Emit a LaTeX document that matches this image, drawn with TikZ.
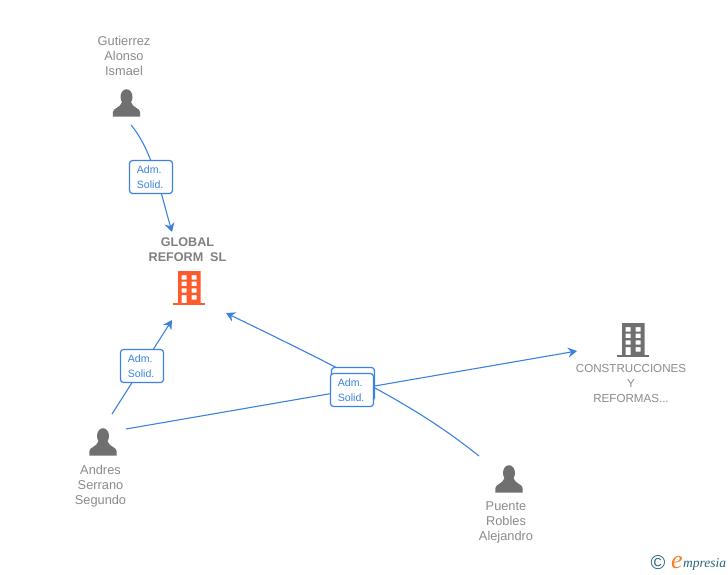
\documentclass[tikz,border=0pt]{standalone}
\usepackage{fontspec}
\setmainfont{Liberation Sans}
\newfontfamily\logofont{Liberation Serif}
\usetikzlibrary{arrows.meta, positioning, calc}
\definecolor{linkblue}{HTML}{3B82E0}
\definecolor{icongrey}{HTML}{707070}
\definecolor{textgrey}{HTML}{8A8A8A}
\definecolor{maingrey}{HTML}{808080}
\definecolor{firmorange}{HTML}{FF5A2B}
\definecolor{logoteal}{HTML}{2A6478}
\definecolor{logoorange}{HTML}{F58220}

\begin{document}
\begin{tikzpicture}[
		x=1pt, y=-1pt,
		every node/.style={align=center, inner sep=0pt},
		arrow/.style={-{Stealth[length=9pt, width=10pt, inset=3pt]}, linkblue, line width=1.1pt},
		label/.style={text=textgrey, font=\fontsize{12.8}{15}\selectfont},
		firm label/.style={text=textgrey, font=\fontsize{11.6}{15}\selectfont},
		main label/.style={text=maingrey, font=\fontsize{12.6}{15.5}\selectfont\bfseries},
		role/.style={draw=linkblue, fill=white, rounded corners=3pt, line width=1.2pt, minimum width=43pt, minimum height=33pt, text=linkblue, align=left, font=\fontsize{10.6}{15}\selectfont},
		personicon/.pic={
			\fill[icongrey] (0,-6) ellipse (6 and 7.8);
			\fill[icongrey] (-13.6,13.6) -- (-13.6,9) .. controls (-13.6,5) and (-6,5) .. (-4.5,-1)
				-- (4.5,-1) .. controls (6,5) and (13.6,5) .. (13.6,9) -- (13.6,13.6) -- cycle;
		},
		buildingicon/.pic={
			\fill[pic actions, even odd rule] (-11,-17) rectangle (11.5,15)
				(-7.3,-13) rectangle (-2.3,-8.5) (2.7,-13) rectangle (7.7,-8.5)
				(-7.3,-6.3) rectangle (-2.3,-2) (2.7,-6.3) rectangle (7.7,-2)
				(-7.3,0.3) rectangle (-2.3,4.7) (2.7,0.3) rectangle (7.7,4.7)
				(-7.3,7) rectangle (-2.3,15) (2.7,7) rectangle (7.7,11.5);
			\fill[pic actions] (-16,15) rectangle (16,17);
		}
		]
		\useasboundingbox (0,0) rectangle (728,575);
		
		% Nodes
		\node[label] (gutierrez) at (124,56) {Gutierrez \\ Alonso \\ Ismael};
		\node[main label] (global) at (187.5,249.5) {GLOBAL \\ REFORM\ \ SL};
		\node[label] (andres) at (100.5,486) {Andres \\ Serrano \\ Segundo};
		\node[label] (puente) at (506,522) {Puente \\ Robles \\ Alejandro};
		\node[firm label] (construcciones) at (631,383.5) {CONSTRUCCIONES \\ Y \\ REFORMAS...};
		
		% Icons
		\pic at (126.5,103) {personicon};
		\pic at (103,442) {personicon};
		\pic at (509,479) {personicon};
		\pic[fill=firmorange] at (189,288) {buildingicon};
		\pic[fill=icongrey] at (633,340) {buildingicon};
		
		% Connector ends
		\coordinate (gutierrezend) at (131,125);
		\coordinate (globaltop) at (172,232);
		\coordinate (andresup) at (112,414);
		\coordinate (globalleft) at (172,320);
		\coordinate (andresright) at (126,429);
		\coordinate (firmend) at (577,351);
		\coordinate (puenteend) at (479,456);
		\coordinate (globalright) at (226,313);
		
		% Links
		\draw[arrow] (gutierrezend) .. controls (152,150) and (160,190) .. (globaltop);
		\draw[arrow] (andresup) -- (globalleft);
		\draw[arrow] (andresright) -- (firmend);
		\draw[arrow] (puenteend) .. controls (425,413) and (375,385) .. (globalright);
		
		% Roles
		\node[role] (roleone) at (151,177) {Adm. \\ Solid.\,};
		\node[role] (roletwo) at (142,366) {Adm. \\ Solid.\,};
		\node[role] (rolethree) at (353,384) {};
		\node[role] (rolefour) at (352,390) {Adm. \\ Solid.\,};
		
		% Logo
		\node[text=logoteal, font=\fontsize{20}{20}\selectfont] (copy) at (658,563) {\textcopyright};
		\node[text=logoorange, font=\logofont\itshape\fontsize{26}{26}\selectfont] (logoe) at (677,562) {e};
		\node[text=logoteal, font=\logofont\itshape\fontsize{13.5}{14}\selectfont, anchor=west] (logotext) at (683,564) {mpresia};
		
	\end{tikzpicture}
\end{document}
